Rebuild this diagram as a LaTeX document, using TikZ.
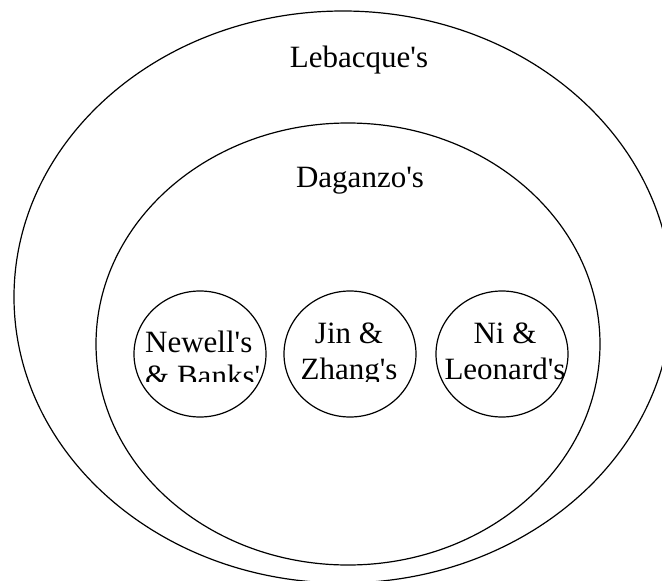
\documentclass[tikz,border=0pt]{standalone}
\usepackage{fontspec}
\setmainfont{Liberation Serif}
\usetikzlibrary{shapes.geometric}
\newcommand{\aq}{\textquotesingle}
\begin{document}
\begin{tikzpicture}[x=1pt,y=-1pt,
  setshape/.style={draw, ellipse, line width=1.2pt, inner sep=0pt},
  lbl/.style={font=\fontsize{31}{36}\selectfont, anchor=base, align=center, inner sep=0pt}]
\useasboundingbox (0,0) rectangle (662,581);
\clip (0,0) rectangle (662,581);
\node[setshape, minimum width=658pt, minimum height=572pt] (leb) at (343,297) {};
\node[setshape, minimum width=504pt, minimum height=442pt] (dag) at (348,344) {};
\node[setshape, minimum width=132pt, minimum height=126pt] (nb) at (200,354) {};
\node[setshape, minimum width=132pt, minimum height=126pt] (jz) at (350,354) {};
\node[setshape, minimum width=132pt, minimum height=126pt] (nl) at (502,354) {};
\node[lbl] (tleb) at (359,67) {Lebacque\aq s};
\node[lbl] (tdag) at (360,187) {Daganzo\aq s};
\begin{scope}
\clip (0,0) rectangle (662,381);
\node[lbl, anchor=base west, align=left, font=\fontsize{31}{34}\selectfont] (tnb) at (145,386) {Newell\aq s\\\& Banks\aq};
\node[lbl] (tjz) at (349,379) {Jin \&\\Zhang\aq s};
\node[lbl] (tnl) at (505,379) {Ni \&\\Leonard\aq s};
\end{scope}
\end{tikzpicture}
\end{document}
